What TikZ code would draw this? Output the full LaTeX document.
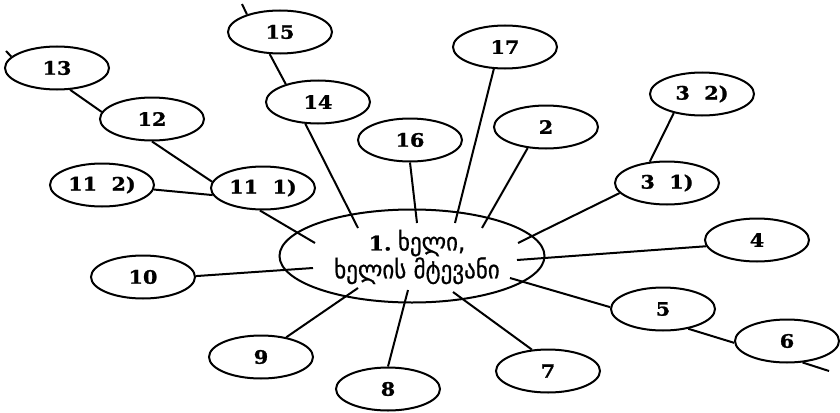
\documentclass[tikz,border=0pt]{standalone}
\usepackage{graphicx}
\usepackage{fontspec}
\setmainfont{DejaVu Serif}
\newfontfamily\geofont[FakeBold=0.7]{DejaVu Sans}
\newfontfamily\numfont[FakeBold=1.2]{DejaVu Serif Bold}
\usetikzlibrary{shapes.geometric}
\newcommand\numtxt[1]{\scalebox{1.12}[1]{#1}}
\newcommand\geotxt[1]{\scalebox{1.15}[1.25]{\geofont #1}}
\tikzset{
  bub/.style={ellipse, draw, line width=2pt, minimum width=104pt, minimum height=43pt, inner sep=0pt,
    font=\fontsize{18.5}{20}\numfont},
  hub/.style={ellipse, draw, line width=2pt, minimum width=265pt, minimum height=93pt, inner sep=0pt,
    align=center},
  link/.style={line width=2pt},
}
\begin{document}
\begin{tikzpicture}[x=1pt,y=-1pt]
\useasboundingbox (0,0) rectangle (840,412);
\node[hub] (c) at (412,256) {};
\node[font=\fontsize{20}{22}\selectfont, align=center] (ct) at (417,257)
  {\scalebox{1.1}[1]{\numfont 1.} \geotxt{ხელი,}\\\geotxt{ხელის მტევანი}};
\coordinate (c11) at (315,243);
\coordinate (c14) at (358,228);
\coordinate (c16) at (417,223);
\coordinate (c17) at (455,223);
\coordinate (c2) at (482,228);
\coordinate (c3) at (518,243);
\coordinate (c4) at (517,260);
\coordinate (c5) at (510,278);
\coordinate (c7) at (453,292);
\coordinate (c8) at (408,290);
\coordinate (c9) at (358,288);
\coordinate (c10) at (313,268);
\node[bub] (n13) at (57,68) {\numtxt{13}};
\node[bub] (n12) at (152,119) {\numtxt{12}};
\node[bub] (n11b) at (102,185) {\numtxt{11\ \ 2)}};
\node[bub] (n11a) at (263,188) {\numtxt{11\ \ 1)}};
\node[bub] (n15) at (280,32) {\numtxt{15}};
\node[bub] (n14) at (318,102) {\numtxt{14}};
\node[bub] (n16) at (410,140) {\numtxt{16}};
\node[bub] (n17) at (505,47) {\numtxt{17}};
\node[bub] (n2) at (546,127) {\numtxt{2}};
\node[bub] (n3b) at (702,94) {\numtxt{3\ \ 2)}};
\node[bub] (n3a) at (667,183) {\numtxt{3\ \ 1)}};
\node[bub] (n4) at (757,240) {\numtxt{4}};
\node[bub] (n5) at (663,309) {\numtxt{5}};
\node[bub] (n6) at (787,341) {\numtxt{6}};
\node[bub] (n7) at (548,371) {\numtxt{7}};
\node[bub] (n8) at (388,389) {\numtxt{8}};
\node[bub] (n9) at (261,357) {\numtxt{9}};
\node[bub] (n10) at (143,277) {\numtxt{10}};
\coordinate (s13) at (6,51);
\coordinate (s15) at (242,4);
\coordinate (s6) at (829,371);
\draw[link] (s13) -- (n13.166);
\draw[link] (n13.-59) -- (n12.172);
\draw[link] (n12.-90) -- (n11a.173);
\draw[link] (n11b.-5) -- (n11a.188);
\draw[link] (n11a.-98) -- (c11);
\draw[link] (s15) -- (n15.152);
\draw[link] (n15.-115) -- (n14.151);
\draw[link] (n14.-120) -- (c14);
\draw[link] (n16.-90) -- (c16);
\draw[link] (n17.-117) -- (c17);
\draw[link] (n2.-131) -- (c2);
\draw[link] (n3b.-146) -- (n3a.129);
\draw[link] (n3a.192) -- (c3);
\draw[link] (n4.187) -- (c4);
\draw[link] (n5.178) -- (c5);
\draw[link] (n5.-38) -- (n6.182);
\draw[link] (n6.-54) -- (s6);
\draw[link] (n7.127) -- (c7);
\draw[link] (n8.90) -- (c8);
\draw[link] (n9.38) -- (c9);
\draw[link] (n10.1) -- (c10);
\end{tikzpicture}
\end{document}
